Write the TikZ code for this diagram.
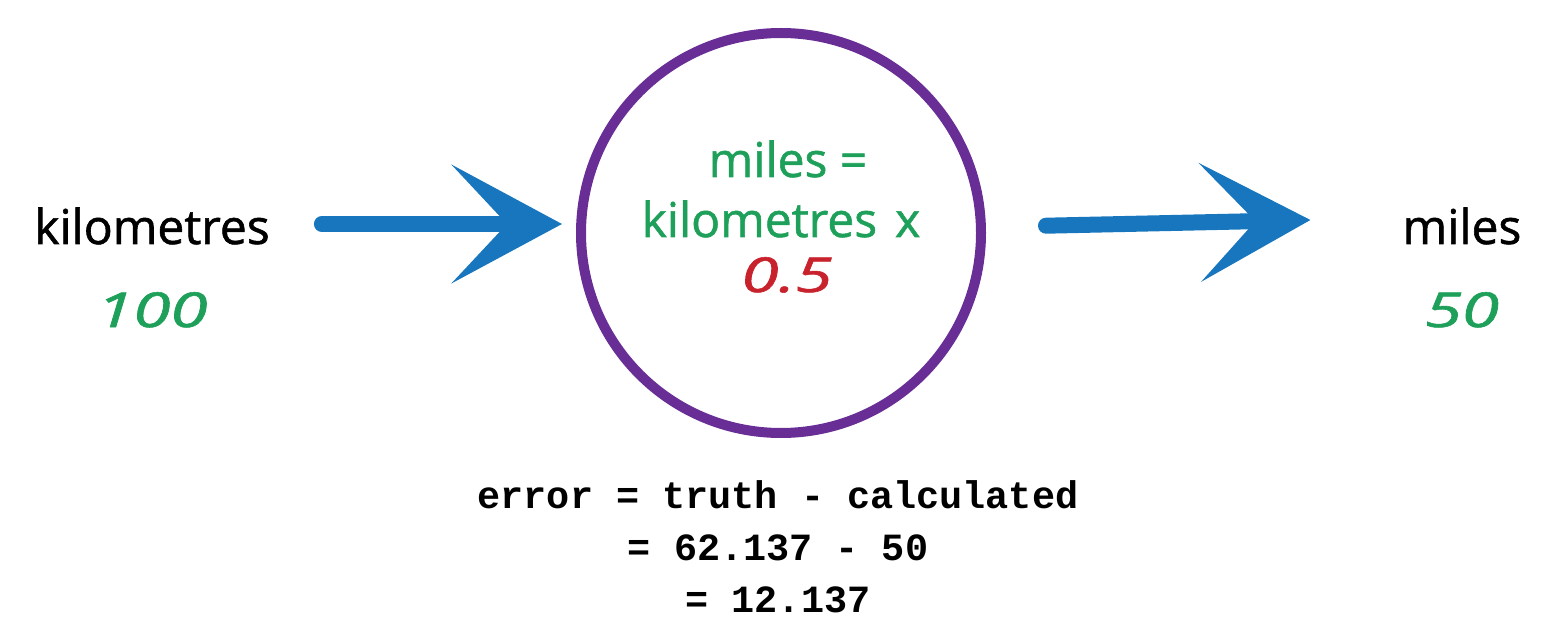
\documentclass[tikz,border=0pt]{standalone}
\usepackage{fontspec}
\setmainfont{Open Sans}[FakeBold=1.2]
\newfontfamily\monofont{Liberation Mono}
\usetikzlibrary{arrows.meta}
\definecolor{arrblue}{RGB}{23,118,189}
\definecolor{ringpurple}{RGB}{105,45,150}
\definecolor{txtgreen}{RGB}{30,160,90}
\definecolor{txtred}{RGB}{200,35,45}
\newcommand{\widedigits}[1]{\scalebox{1.4}[1.0]{#1}}
\tikzset{
  hand/.style={font=\fontsize{48}{56}\selectfont, inner sep=0pt, anchor=base},
  handnum/.style={font=\fontsize{48}{56}\selectfont\itshape, inner sep=0pt, anchor=base, text=txtgreen},
  codeline/.style={font=\fontsize{38.5}{50}\monofont\bfseries\selectfont, inner sep=0pt, anchor=base},
  ring/.style={circle, draw=ringpurple, line width=10pt, minimum size=400pt, inner sep=0pt},
  flow/.style={draw=arrblue, line width=16pt, line cap=round,
    -{Stealth[length=110pt, width=118pt, inset=55pt]}},
}
\begin{document}
\begin{tikzpicture}[x=1pt, y=-1pt]
\useasboundingbox (0,0) rectangle (1550,628);
\node[ring] (circ) at (781,233) {};
\node[hand] (km) at (152,244) {kilometres};
\node[handnum] (kmval) at (152,327) {\widedigits{100}};
\node[hand] (mi) at (1462,244) {miles};
\node[handnum] (mival) at (1462,327) {\widedigits{50}};
\node[hand, text=txtgreen] (f1) at (788,177) {miles =};
\node[hand, text=txtgreen] (f2) at (781,237) {kilometres\hspace{18pt}x};
\node[handnum, text=txtred] (f3) at (787,292) {\widedigits{0.5}};
\node[codeline] (e1) at (778,508) {error = truth - calculated};
\node[codeline] (e2) at (778,560) {= 62.137 - 50};
\node[codeline] (e3) at (778,612) {= 12.137};
\draw[flow, shorten <=52pt, shorten >=14pt] ([yshift=2pt]km.east) -- ([yshift=2pt]km.east -| circ.west);
\draw[flow, shorten <=60pt, shorten >=92pt] ([yshift=6pt]circ.east) -- ([yshift=8pt]mi.west);
\end{tikzpicture}
\end{document}
